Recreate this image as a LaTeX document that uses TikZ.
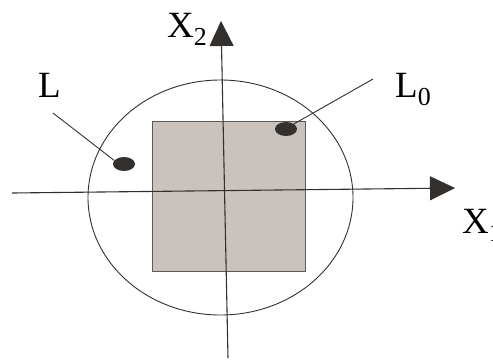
\documentclass[tikz,border=0pt]{standalone}
\usepackage{fontspec}
\setmainfont{Liberation Serif}
\usetikzlibrary{arrows.meta,shapes.geometric}
\definecolor{boxgray}{RGB}{201,194,189}
\definecolor{inkdark}{RGB}{52,48,45}
\tikzset{
  axis/.style={draw=inkdark, line width=1.1pt, -{Triangle[length=25pt,width=24pt]}},
  lbl/.style={font=\fontsize{37}{40}\selectfont, inner sep=0pt, anchor=base west},
  spot/.style={ellipse, fill=inkdark, minimum width=22pt, minimum height=14pt, inner sep=0pt},
  leader/.style={draw=inkdark, line width=0.9pt}
}
\begin{document}
\begin{tikzpicture}[x=1pt,y=-1pt]
  \useasboundingbox (0,0) rectangle (493,360);
  \clip (0,0) rectangle (493,360);
  % shaded region and enclosing circle
  \node[draw=inkdark!80, fill=boxgray, minimum width=153pt, minimum height=150pt, inner sep=0pt] (box) at (228.5,196) {};
  \draw[leader] (220.5,197.5) ellipse [x radius=132.5pt, y radius=117.5pt];
  % axes
  \coordinate (xlo) at (12,193);
  \coordinate (xhi) at (455,188);
  \coordinate (ylo) at (228,358);
  \coordinate (yhi) at (221,21);
  \draw[axis] (xlo) -- (xhi);
  \draw[axis] (ylo) -- (yhi);
  \node[lbl] (xone) at (462,233) {X\textsubscript{1}};
  \node[lbl] (xtwo) at (167,37) {X\textsubscript{2}};
  % points and their labels
  \node[spot] (ldot) at (124,164) {};
  \node[spot] (lzdot) at (286,129) {};
  \node[lbl] (llab) at (38,97) {L};
  \node[lbl] (lzlab) at (395,97) {L\textsubscript{0}};
  \coordinate (lfoot) at (53,113);
  \coordinate (lzfoot) at (373,79);
  \draw[leader] (lfoot) -- (ldot.160);
  \draw[leader] (lzfoot) -- (lzdot.north east);
\end{tikzpicture}
\end{document}
